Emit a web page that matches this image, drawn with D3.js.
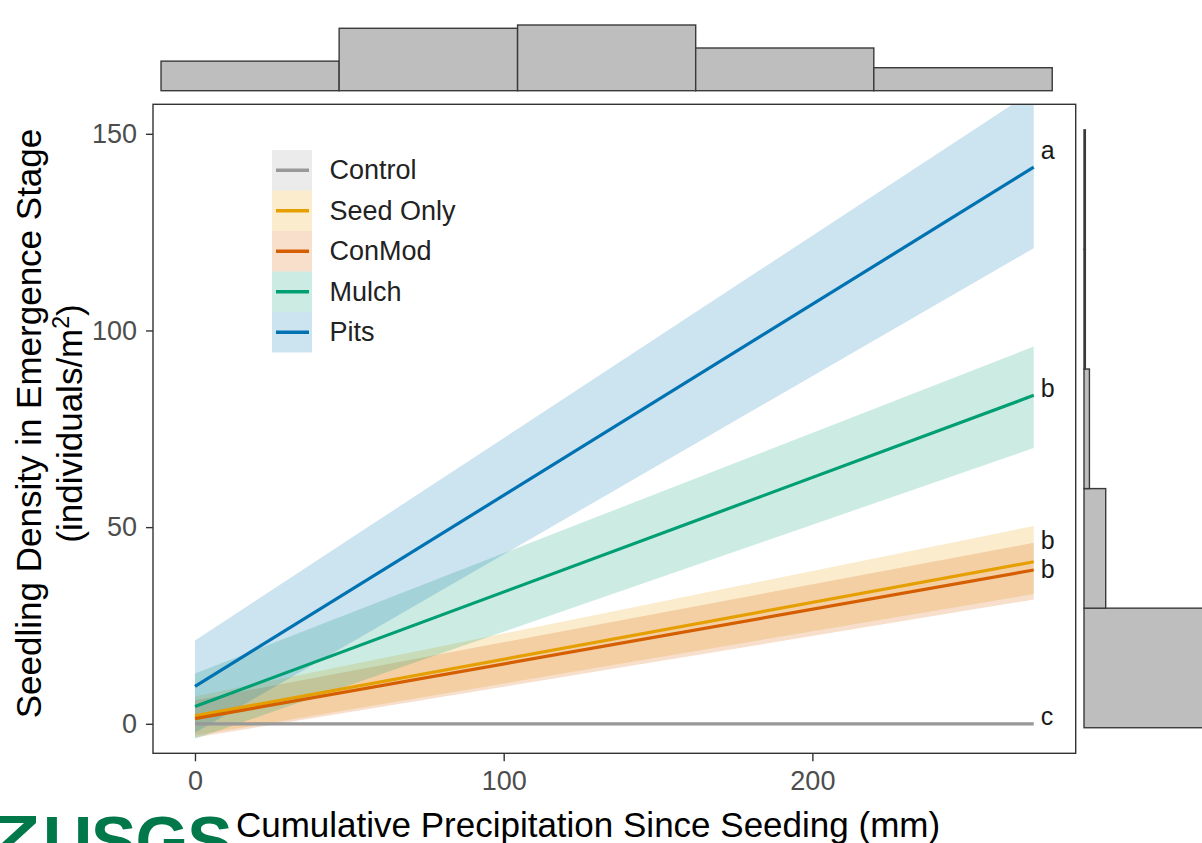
<!DOCTYPE html>
<html>
<head>
<meta charset="utf-8">
<script src="https://cdn.jsdelivr.net/npm/d3@7"></script>
<style>
  html, body { margin: 0; padding: 0; background: #fff; }
  svg { display: block; }
  text { font-family: "Liberation Sans", Arial, Helvetica, sans-serif; }
</style>
</head>
<body>
<svg id="chart" width="1202" height="843"></svg>
<script>
// ---------------- DATA ----------------
const seriesNames = ["Control", "Seed Only", "ConMod", "Mulch", "Pits"];
const seriesColors = ["#999999", "#E69F00", "#D55E00", "#009E73", "#0072B2"];
const fitX = [0, 271.7];                       // x extent of each fitted line (mm)
const fitStart = [0, 2.0, 1.3, 4.4, 9.5];      // fitted value at x = 0
const fitEnd = [0, 41.2, 39.1, 83.5, 141.5];   // fitted value at x = 271.7
const lowStart = [-0.4, -3.0, -3.5, -3.8, -2.3];
const highStart = [0.4, 7.0, 6.0, 12.8, 21.2];
const lowEnd = [-0.4, 33.0, 31.6, 70.1, 120.9];
const highEnd = [0.4, 50.3, 46.0, 95.9, 161.0];
const groupLetters = ["c", "b", "b", "b", "a"];
const letterY = [2.0, 39.3, 46.8, 85.5, 146.0];
const letterX = 274;

const xTicks = [0, 100, 200];
const yTicks = [0, 50, 100, 150];

// marginal histogram of x (cumulative precipitation)
const topBinEdges = [-11.0, 46.7, 104.5, 162.2, 219.9, 277.7];
const topBinCounts = [9, 19, 20, 13, 7];
// marginal histogram of y (seedling density)
const rightBinEdges = [-1.0, 29.4, 59.8, 90.2, 120.6, 151.0];
const rightBinCounts = [95, 16, 4, 1, 1];

const xTitle = "Cumulative Precipitation Since Seeding (mm)";
const yTitle1 = "Seedling Density in Emergence Stage";

// ---------------- LAYOUT ----------------
const svg = d3.select("#chart");
const panel = { left: 153, right: 1075.7, top: 104.3, bottom: 753.3 };

const x = d3.scaleLinear().domain([-13.6, 285.3]).range([panel.left, panel.right]);
const y = d3.scaleLinear().domain([-7.5, 157.5]).range([panel.bottom, panel.top]);

const font = '"Liberation Sans", Arial, Helvetica, sans-serif';

// ---------------- TOP MARGINAL HISTOGRAM ----------------
const hTop = d3.scaleLinear().domain([0, 20]).range([90.7, 25]);
const topBins = topBinCounts.map((c, i) => ({ x0: topBinEdges[i], x1: topBinEdges[i + 1], c }));
svg.append("g").selectAll("rect").data(topBins).join("rect")
  .attr("x", d => x(d.x0))
  .attr("width", d => x(d.x1) - x(d.x0))
  .attr("y", d => hTop(d.c))
  .attr("height", d => hTop(0) - hTop(d.c))
  .attr("fill", "#bebebe")
  .attr("stroke", "#3a3a3a")
  .attr("stroke-width", 1.4);

// ---------------- RIGHT MARGINAL HISTOGRAM ----------------
const hRight = d3.scaleLinear().domain([0, 16]).range([1084, 1105.7]);
const rightBins = rightBinCounts.map((c, i) => ({ y0: rightBinEdges[i], y1: rightBinEdges[i + 1], c }));
svg.append("g").selectAll("rect").data(rightBins).join("rect")
  .attr("x", hRight(0))
  .attr("width", d => hRight(d.c) - hRight(0))
  .attr("y", d => y(d.y1))
  .attr("height", d => y(d.y0) - y(d.y1))
  .attr("fill", "#bebebe")
  .attr("stroke", "#3a3a3a")
  .attr("stroke-width", 1.4);

// ---------------- MAIN PANEL ----------------
svg.append("defs").append("clipPath").attr("id", "panelClip")
  .append("rect")
  .attr("x", panel.left).attr("y", panel.top)
  .attr("width", panel.right - panel.left)
  .attr("height", panel.bottom - panel.top);

svg.append("rect")
  .attr("x", panel.left).attr("y", panel.top)
  .attr("width", panel.right - panel.left)
  .attr("height", panel.bottom - panel.top)
  .attr("fill", "#ffffff");

const series = seriesNames.map((name, i) => ({
  name, color: seriesColors[i],
  fit: [{ x: fitX[0], v: fitStart[i] }, { x: fitX[1], v: fitEnd[i] }],
  band: [{ x: fitX[0], lo: lowStart[i], hi: highStart[i] }, { x: fitX[1], lo: lowEnd[i], hi: highEnd[i] }],
  letter: groupLetters[i], ly: letterY[i]
}));

const plotG = svg.append("g").attr("clip-path", "url(#panelClip)");

const area = d3.area().x(d => x(d.x)).y0(d => y(d.lo)).y1(d => y(d.hi));
plotG.append("g").selectAll("path").data(series).join("path")
  .attr("d", d => area(d.band))
  .attr("fill", d => d.color)
  .attr("fill-opacity", 0.2)
  .attr("stroke", "none");

const line = d3.line().x(d => x(d.x)).y(d => y(d.v));
plotG.append("g").selectAll("path").data(series).join("path")
  .attr("d", d => line(d.fit))
  .attr("fill", "none")
  .attr("stroke", d => d.color)
  .attr("stroke-width", 3.2);

// group letters
svg.append("g").selectAll("text").data(series).join("text")
  .attr("x", x(letterX))
  .attr("y", d => y(d.ly))
  .attr("dominant-baseline", "central")
  .attr("font-size", 25)
  .attr("fill", "#1a1a1a")
  .text(d => d.letter);

// panel border
svg.append("rect")
  .attr("x", panel.left).attr("y", panel.top)
  .attr("width", panel.right - panel.left)
  .attr("height", panel.bottom - panel.top)
  .attr("fill", "none")
  .attr("stroke", "#333333")
  .attr("stroke-width", 1.4);

// ---------------- AXES ----------------
const xAxis = d3.axisBottom(x).tickValues(xTicks).tickSize(8).tickPadding(10).tickFormat(d3.format("d"));
const gx = svg.append("g").attr("transform", `translate(0,${panel.bottom})`).call(xAxis);
gx.select(".domain").remove();
gx.selectAll(".tick line").attr("stroke", "#333333").attr("stroke-width", 1.4);
gx.selectAll(".tick text").attr("font-family", font).attr("font-size", 27).attr("fill", "#4d4d4d");

const yAxis = d3.axisLeft(y).tickValues(yTicks).tickSize(7).tickPadding(9).tickFormat(d3.format("d"));
const gy = svg.append("g").attr("transform", `translate(${panel.left},0)`).call(yAxis);
gy.select(".domain").remove();
gy.selectAll(".tick line").attr("stroke", "#333333").attr("stroke-width", 1.4);
gy.selectAll(".tick text").attr("font-family", font).attr("font-size", 27).attr("fill", "#4d4d4d");

// axis titles
svg.append("text")
  .attr("x", 588).attr("y", 836.5)
  .attr("text-anchor", "middle")
  .attr("font-size", 35)
  .attr("fill", "#000")
  .text(xTitle);

const yTitleG = svg.append("g").attr("transform", "translate(0,423.5) rotate(-90)");
yTitleG.append("text")
  .attr("x", 0).attr("y", 41)
  .attr("text-anchor", "middle")
  .attr("font-size", 35)
  .attr("fill", "#000")
  .text(yTitle1);
const yt2 = yTitleG.append("text")
  .attr("x", 0).attr("y", 82)
  .attr("text-anchor", "middle")
  .attr("font-size", 35)
  .attr("fill", "#000");
yt2.append("tspan").text("(individuals/m");
yt2.append("tspan").attr("font-size", 23).attr("dy", -13).text("2");
yt2.append("tspan").attr("dy", 13).text(")");

// ---------------- LEGEND ----------------
const legend = svg.append("g").attr("transform", "translate(272,150)");
const rowH = 40.5;
const rows = legend.selectAll("g").data(series).join("g")
  .attr("transform", (d, i) => `translate(0,${i * rowH})`);
rows.append("rect")
  .attr("width", 40).attr("height", rowH)
  .attr("fill", d => d.color).attr("fill-opacity", 0.2);
rows.append("line")
  .attr("x1", 4).attr("x2", 37)
  .attr("y1", rowH / 2).attr("y2", rowH / 2)
  .attr("stroke", d => d.color).attr("stroke-width", 3.4);
rows.append("text")
  .attr("x", 57.5).attr("y", rowH / 2)
  .attr("dominant-baseline", "central")
  .attr("font-size", 27)
  .attr("fill", "#222")
  .text(d => d.name);

// ---------------- USGS LOGO (partially cropped, as in the source image) ----------------
const logo = svg.append("g").attr("fill", "#00784a");
logo.append("path").attr("d", "M0,816 L36,816 L36,823 L14,843 L2,843 L24,823 L0,823 Z");
logo.append("text")
  .attr("x", 43).attr("y", 864)
  .attr("font-size", 68)
  .attr("font-weight", 700)
  .attr("letter-spacing", -1)
  .text("USGS");
</script>
</body>
</html>
